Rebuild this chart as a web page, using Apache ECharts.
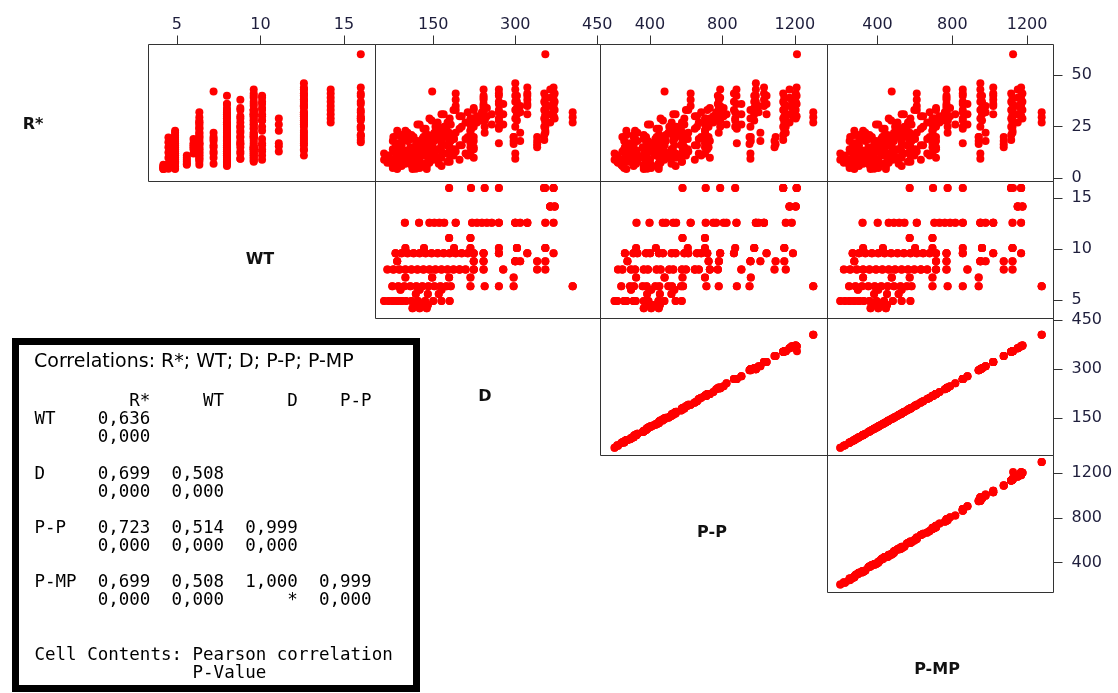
<!DOCTYPE html>
<html>
<head>
<meta charset="utf-8">
<script src="https://cdn.jsdelivr.net/npm/echarts@6/dist/echarts.min.js"></script>
<style>
  html, body { margin: 0; padding: 0; background: #fff; }
  #chart { width: 1118px; height: 693px; }
</style>
</head>
<body>
<div id="chart"></div>
<script>
// Variables of the matrix plot, in diagonal order
const varNames = ['R*', 'WT', 'D', 'P-P', 'P-MP'];
// Tick labels of each variable
const tickValues = [[0, 25, 50], [5, 10, 15], [150, 300, 450], [400, 800, 1200], [400, 800, 1200]];

// Weight classes (WT)
const levels = [4.2, 4.5, 4.9, 5.6, 6.0, 6.35, 7.2, 8.0, 8.8, 9.6, 10.1, 11.1, 12.6, 14.2, 16.0];
// Diameter D of each tree, per weight class
const dByLevel = [
  [112, 125, 138],
  [118, 128, 140],
  [60, 68, 76, 84, 92, 100, 110, 122, 135, 150, 165, 180],
  [118, 140, 160],
  [90, 125, 165],
  [75, 86, 97, 108, 119, 130, 141, 152, 163, 174, 182, 218, 244, 270, 297, 405],
  [99, 148, 179, 218, 297],
  [66, 77, 88, 99, 110, 121, 132, 143, 154, 165, 176, 187, 198, 209, 224, 242, 278, 340, 355],
  [84, 224, 242, 300, 309, 340, 355],
  [81, 92, 103, 114, 125, 136, 147, 158, 169, 180, 191, 202, 213, 224, 242, 270, 322, 370],
  [99, 133, 188, 218, 270, 303, 355],
  [179, 218],
  [98, 124, 143, 152, 161, 170, 191, 221, 230, 239, 248, 257, 270, 300, 309, 322, 355, 370],
  [364, 372],
  [179, 219, 244, 270, 353, 355, 370]
];
// Perimeter P-P of each tree
const ppByLevel = [
  [366, 407, 449],
  [385, 417, 455],
  [205, 220, 258, 270, 310, 322, 366, 392, 447, 480, 542, 576],
  [385, 455, 519],
  [296, 407, 535],
  [242, 290, 312, 360, 382, 430, 452, 502, 522, 572, 583, 712, 780, 880, 950, 1302],
  [324, 481, 580, 704, 957],
  [224, 248, 296, 318, 366, 389, 437, 459, 507, 529, 577, 599, 648, 670, 731, 775, 905, 1088, 1150],
  [276, 724, 781, 955, 1010, 1094, 1142],
  [262, 309, 331, 379, 401, 450, 472, 520, 542, 590, 612, 660, 683, 717, 788, 864, 1044, 1190],
  [324, 433, 609, 704, 871, 976, 1142],
  [580, 704],
  [326, 398, 471, 488, 529, 545, 625, 708, 750, 766, 807, 823, 878, 985, 1000, 1030, 1150, 1183],
  [1171, 1205],
  [580, 708, 788, 871, 1136, 1212, 1210]
];
// Perimeter P-MP of each tree
const pmpByLevel = [
  [363, 404, 445],
  [382, 413, 451],
  [201, 226, 251, 276, 301, 326, 357, 395, 435, 482, 529, 576],
  [382, 451, 513],
  [295, 404, 529],
  [248, 282, 317, 351, 385, 420, 454, 488, 523, 557, 582, 694, 775, 856, 941, 1278],
  [323, 476, 572, 694, 941],
  [220, 254, 289, 323, 357, 392, 426, 460, 494, 529, 563, 597, 632, 666, 713, 769, 881, 1075, 1122],
  [276, 713, 769, 950, 978, 1075, 1122],
  [267, 301, 335, 370, 404, 438, 473, 507, 541, 576, 610, 644, 679, 713, 769, 856, 1019, 1168],
  [323, 429, 601, 694, 856, 959, 1122],
  [572, 694],
  [320, 401, 460, 488, 516, 544, 610, 704, 732, 760, 788, 816, 856, 950, 978, 1019, 1122, 1168],
  [1150, 1175],
  [572, 697, 775, 856, 1115, 1125, 1168]
];
// R* readings taken on each tree
const rByLevel = [
  [[5.5, 4.5], [5, 6.5], [4.5, 6]],
  [[4.6, 7, 10], [12.5, 15], [17.5, 19.8]],
  [[9, 12], [8, 11], [5, 14, 18], [4.5, 21, 23], [6, 16, 20], [7.5, 22], [10, 19], [13, 17], [7, 15], [9, 12], [6, 10], [8, 11]],
  [[6.5, 9], [8, 11], [7, 10]],
  [[12, 15], [14, 17], [16, 19]],
  [[6.5, 9], [8, 11], [9.5, 13], [11, 15], [12.5, 17], [14, 19], [10, 21], [12, 22], [14, 24], [16, 25], [18, 26], [20, 27], [22, 28], [17, 24], [16.6, 20], [32, 29.5, 27]],
  [[7, 10], [42, 13, 16], [19, 22], [12, 15], [18, 20]],
  [[7.5, 10], [6, 13, 20], [8, 15, 17], [11, 19, 23], [6.5, 14, 21], [9, 18, 26], [12, 24, 20], [7.5, 16, 29], [10, 22, 25], [13, 18, 31], [8, 27, 22], [11, 20, 33], [9, 16, 24, 30], [12, 27, 19], [10, 18, 29, 34], [40, 36, 32], [36, 31, 26], [15, 18], [22, 25]],
  [[9.5, 13, 17], [15, 20, 25], [30, 34, 38], [33, 29, 25, 12, 9.5], [22, 18], [20, 16.5], [27, 23]],
  [[8, 12, 15], [10, 14, 21], [8.5, 18, 22], [11, 15, 20], [9, 17, 26], [13, 21, 24], [10, 19, 28], [14, 24, 27], [12, 20, 31], [15, 26, 29], [13, 22, 33], [16, 25, 30], [11, 20, 32], [14, 28, 33], [43, 39, 35, 31], [41, 37, 33], [40, 36, 31], [33, 30]],
  [[9, 13], [11, 16], [14, 19], [17, 23], [28, 25], [40, 37, 34, 31, 28], [39, 36, 33, 30]],
  [[13, 15.5, 17], [23, 26, 29]],
  [[11, 13.5], [14, 17], [16, 19], [18, 21], [20, 23], [22, 25], [35, 38, 41], [26, 29], [27, 30], [28, 32], [30, 34], [26, 31], [36, 40, 43], [46, 43, 40, 37], [35, 32], [44, 41, 38, 35], [31, 28], [38, 35]],
  [[43, 39, 35, 31, 27], [41, 37, 33, 29]],
  [[17.5, 20], [21, 24], [25, 28], [29, 32], [41, 37, 33, 29, 25, 21, 18.5], [60], [44, 40, 36, 30]]
];

// Correlation table
const corrTitle = 'Correlations: R*; WT; D; P-P; P-MP';
const corrLines = [
  '         R*     WT      D    P-P',
  'WT    0,636',
  '      0,000',
  '',
  'D     0,699  0,508',
  '      0,000  0,000',
  '',
  'P-P   0,723  0,514  0,999',
  '      0,000  0,000  0,000',
  '',
  'P-MP  0,699  0,508  1,000  0,999',
  '      0,000  0,000      *  0,000',
  '',
  '',
  'Cell Contents: Pearson correlation',
  '               P-Value'
];

// ---- layout of the panel grid (pixel lines of the frames) ----
const colX = [148, 375, 600, 827, 1053];
const rowY = [44, 181, 318, 455, 592];
// axis extents of each variable when used as x (columns) and as y (rows)
const xExtent = { 1: [3.31, 16.88], 2: [44.3, 455.9], 3: [127.3, 1380.5], 4: [132.6, 1341.2] };
const yExtent = { 0: [-1.55, 64.76], 1: [3.18, 16.65], 2: [36.5, 454.6], 3: [133.3, 1359.3] };

// one record per reading: [R*, WT, D, P-P, P-MP]
const obs = [];
levels.forEach((wt, li) => {
  dByLevel[li].forEach((d, ti) => {
    rByLevel[li][ti].forEach(r => {
      obs.push([r, wt, d, ppByLevel[li][ti], pmpByLevel[li][ti]]);
    });
  });
});

const tickFont = '"DejaVu Sans", Verdana, sans-serif';
const tickColor = '#1e1e3c';
const frameColor = '#333333';

const grids = [], xAxes = [], yAxes = [], series = [], graphics = [];
let k = 0;
for (let i = 0; i < 4; i++) {
  for (let j = i + 1; j < 5; j++) {
    const c = j - 1;
    const left = colX[c] + 0.5, top = rowY[i] + 0.5;
    const w = colX[c + 1] - colX[c], h = rowY[i + 1] - rowY[i];
    grids.push({ left: left, top: top, width: w, height: h, show: false });
    const topRow = i === 0, rightCol = j === 4;
    xAxes.push({
      gridIndex: k, type: 'value', position: 'top',
      min: xExtent[j][0], max: xExtent[j][1],
      axisLine: { show: false, onZero: false }, splitLine: { show: false },
      axisTick: { show: topRow, length: 9, customValues: tickValues[j], lineStyle: { color: frameColor, width: 1 } },
      axisLabel: {
        show: topRow, customValues: tickValues[j], margin: 12,
        fontFamily: tickFont, fontSize: 16, color: tickColor,
        formatter: v => String(v)
      }
    });
    yAxes.push({
      gridIndex: k, type: 'value', position: 'right',
      min: yExtent[i][0], max: yExtent[i][1],
      axisLine: { show: false, onZero: false }, splitLine: { show: false },
      axisTick: { show: rightCol, length: 9, customValues: tickValues[i], lineStyle: { color: frameColor, width: 1 } },
      axisLabel: {
        show: rightCol, customValues: tickValues[i], margin: 18,
        fontFamily: tickFont, fontSize: 16, color: tickColor,
        formatter: v => String(v)
      }
    });
    series.push({
      type: 'scatter', xAxisIndex: k, yAxisIndex: k,
      data: obs.map(o => [o[j], o[i]]),
      symbol: 'circle', symbolSize: 8,
      itemStyle: { color: '#ff0000', opacity: 1 },
      silent: true
    });
    graphics.push({
      type: 'rect', silent: true, z: 100,
      shape: { x: left, y: top, width: w, height: h },
      style: { fill: 'transparent', stroke: frameColor, lineWidth: 1 }
    });
    k++;
  }
}

// variable names on the diagonal
const diagPos = [[33, 125], [260, 260], [485, 397], [712, 533], [937, 670]];
varNames.forEach((name, n) => {
  graphics.push({
    type: 'text', silent: true, z: 100,
    x: diagPos[n][0], y: diagPos[n][1],
    style: { text: name, font: 'bold 16px "DejaVu Sans", Verdana, sans-serif', fill: '#111', align: 'center', verticalAlign: 'middle' }
  });
});

// correlation table box
graphics.push({
  type: 'rect', silent: true, z: 110,
  shape: { x: 15.5, y: 341.5, width: 401, height: 347 },
  style: { fill: '#ffffff', stroke: '#000000', lineWidth: 7 }
});
graphics.push({
  type: 'text', silent: true, z: 111,
  x: 34, y: 362,
  style: { text: corrTitle, font: '19px "DejaVu Sans", Verdana, sans-serif', fill: '#000', align: 'left', verticalAlign: 'middle' }
});
graphics.push({
  type: 'text', silent: true, z: 111,
  x: 34.5, y: 392.6,
  style: { text: corrLines.join('\n'), font: '17.5px "DejaVu Sans Mono", monospace', lineHeight: 18.1, fill: '#000', align: 'left', verticalAlign: 'top' }
});

const chart = echarts.init(document.getElementById('chart'), null, { renderer: 'canvas' });
chart.setOption({
  animation: false,
  backgroundColor: '#ffffff',
  grid: grids,
  xAxis: xAxes,
  yAxis: yAxes,
  series: series,
  graphic: { elements: graphics }
});
</script>
</body>
</html>
